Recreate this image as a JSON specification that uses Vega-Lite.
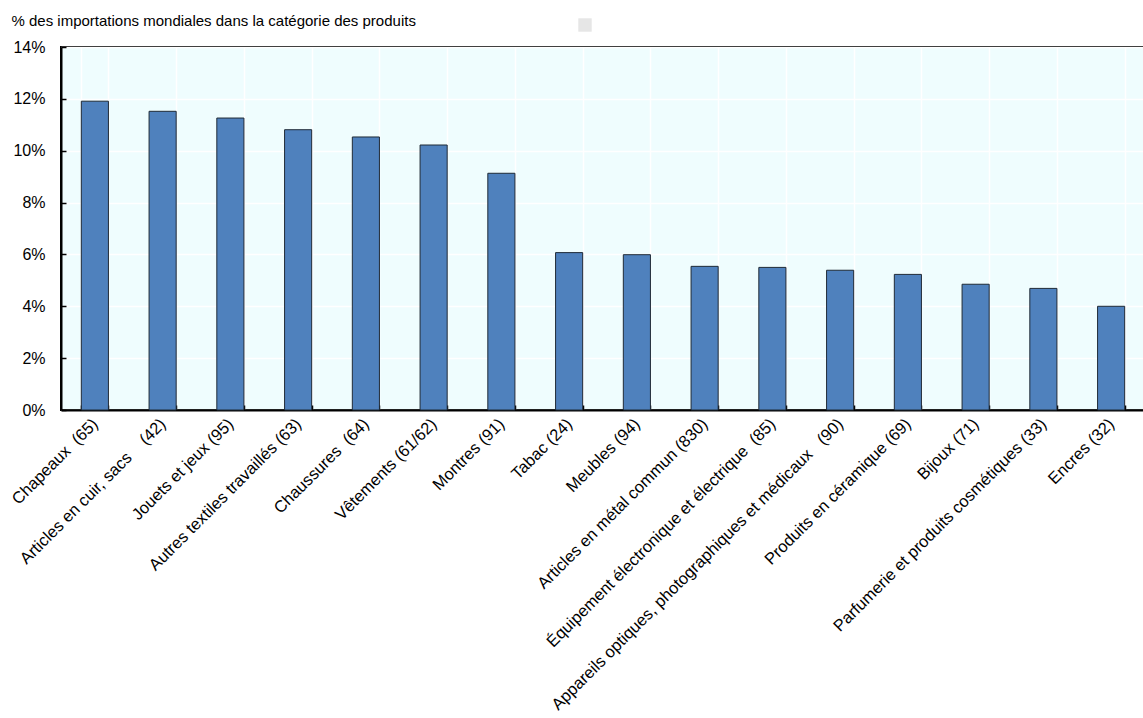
{
  "$schema": "https://vega.github.io/schema/vega-lite/v6.json",
  "width": 1084,
  "height": 363,
  "autosize": {"type": "none"},
  "padding": {"left": 61, "top": 47, "right": 0, "bottom": 308},
  "background": "white",
  "config": {
    "font": "Liberation Sans",
    "view": {"fill": "#effdfe", "stroke": "#000000", "strokeWidth": 2},
    "axis": {"labelColor": "#000000", "titleColor": "#000000", "domainColor": "#000000", "domainWidth": 2, "tickColor": "#000000", "tickWidth": 1.5, "gridColor": "#ffffff", "gridWidth": 1.5, "gridOpacity": 1}
  },
  "data": {
    "values": [
      {"produit": "Chapeaux\u00a0 (65)", "part": 11.91},
      {"produit": "Articles en cuir, sacs\u00a0\u00a0\u00a0 (42)", "part": 11.52},
      {"produit": "Jouets et jeux (95)", "part": 11.26},
      {"produit": "Autres textiles travaillés (63)", "part": 10.81},
      {"produit": "Chaussures\u00a0 (64)", "part": 10.53},
      {"produit": "Vêtements (61/62)", "part": 10.22},
      {"produit": "Montres (91)", "part": 9.13},
      {"produit": "Tabac (24)", "part": 6.07},
      {"produit": "Meubles (94)", "part": 5.99},
      {"produit": "Articles en métal commun (830)", "part": 5.54},
      {"produit": "Équipement électronique et électrique\u00a0 (85)", "part": 5.5},
      {"produit": "Appareils optiques, photographiques et médicaux\u00a0\u00a0 (90)", "part": 5.39},
      {"produit": "Produits en céramique (69)", "part": 5.23},
      {"produit": "Bijoux (71)", "part": 4.85},
      {"produit": "Parfumerie et produits cosmétiques (33)", "part": 4.69},
      {"produit": "Encres (32)", "part": 4.0}
    ]
  },
  "layer": [
    {
      "mark": {"type": "bar", "color": "#4f81bd", "stroke": "#1f2a36", "strokeWidth": 1},
      "encoding": {
        "x": {
          "field": "produit",
          "type": "nominal",
          "sort": null,
          "scale": {"paddingInner": 0.6, "paddingOuter": 0.3},
          "axis": {
            "title": null,
            "labelAngle": -45,
            "labelAlign": "right",
            "labelBaseline": "middle",
            "labelFontSize": 16.5,
            "labelPadding": 16,
            "labelDx": 6,
            "labelLimit": 0,
            "tickBand": "extent",
            "tickSize": -5,
            "grid": true
          }
        },
        "y": {
          "field": "part",
          "type": "quantitative",
          "scale": {"domain": [0, 14], "nice": false},
          "axis": {
            "values": [0, 2, 4, 6, 8, 10, 12, 14],
            "labelExpr": "datum.value + '%'",
            "labelFontSize": 16,
            "labelPadding": 21,
            "tickSize": -5,
            "grid": true,
            "title": "% des importations mondiales dans la catégorie des produits",
            "titleAngle": 0,
            "titleAlign": "left",
            "titleBaseline": "alphabetic",
            "titleX": -50,
            "titleY": -22,
            "titleFontSize": 15,
            "titleFontWeight": "normal"
          }
        }
      }
    },
    {
      "mark": {"type": "point", "shape": "square", "filled": true, "opacity": 0},
      "encoding": {
        "x": {"field": "produit", "type": "nominal", "sort": null},
        "y": {"field": "part", "type": "quantitative"},
        "color": {
          "datum": " ",
          "scale": {"range": ["#e6e6e6"]},
          "legend": {
            "title": null,
            "orient": "none",
            "legendX": 517,
            "legendY": -29,
            "padding": 0,
            "symbolType": "square",
            "symbolSize": 180,
            "symbolOpacity": 1,
            "symbolFillColor": "#e6e6e6",
            "symbolStrokeColor": "#e6e6e6",
            "symbolStrokeWidth": 0,
            "labelExpr": "''"
          }
        }
      }
    }
  ]
}
